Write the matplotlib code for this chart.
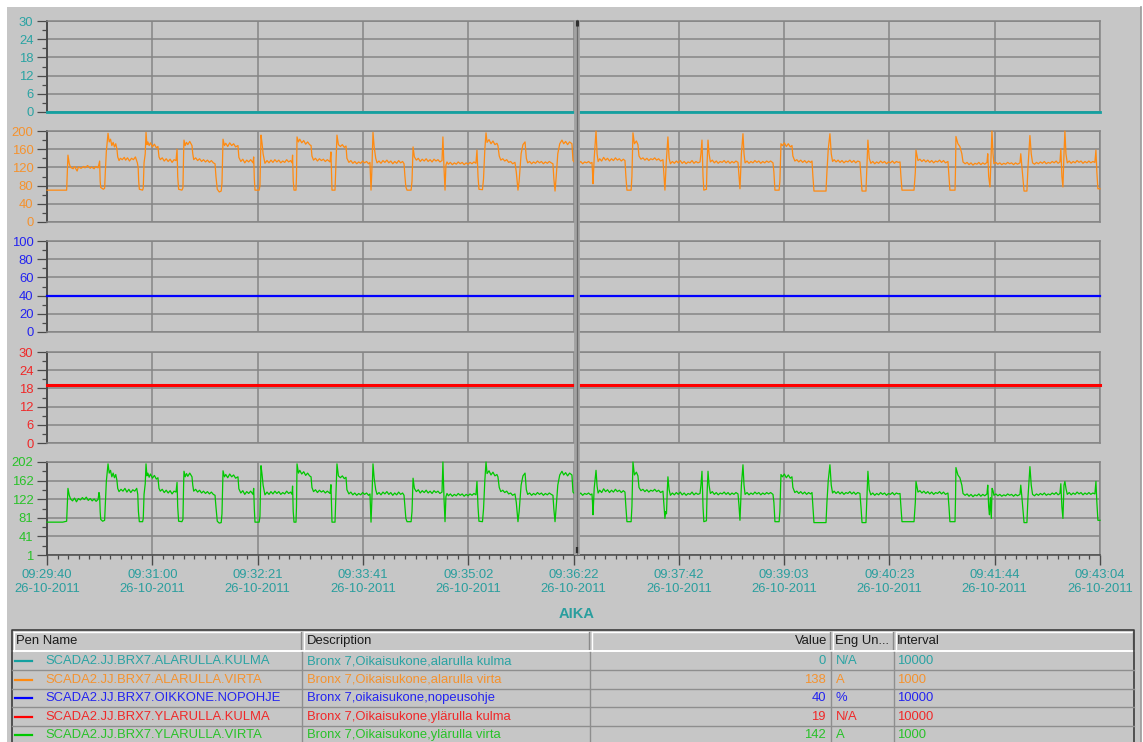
import matplotlib.pyplot as plt
import numpy as np
from matplotlib.ticker import FixedLocator
from matplotlib.transforms import blended_transform_factory

plt.rcParams['font.family'] = ['Liberation Sans', 'DejaVu Sans']
plt.rcParams['font.size'] = 9.4

# ---- trend data (seconds from 09:29:40, 26-10-2011) ----
t_end = 804.0

# lower roll angle (N/A), interval 10 s - constant
alakulma_t = [0, t_end]
alakulma = [0, 0]

# speed reference (%), constant
nopohje_t = [0, t_end]
nopohje = [40, 40]

# upper roll angle (N/A), constant
ylakulma_t = [0, t_end]
ylakulma = [19, 19]

# lower roll current (A)
alavirta = [
    (0, 70), (15, 70), (15.5, 110), (16, 147), (17, 128), (18, 120), (20, 117), (21, 122), (23, 112),
    (24, 121), (26, 118), (28, 122), (29, 119), (31, 124), (33, 118), (34, 121), (36, 117), (37, 122),
    (39, 119), (39.7, 128), (40.2, 134), (40.6, 90), (41, 76), (43, 72), (44, 74), (44.5, 108), (45.3, 155),
    (46.6, 195), (47.5, 176), (48.5, 182), (49.5, 168), (50.5, 175), (51.5, 165), (52.5, 172), (53.4, 160),
    (54, 143), (55, 135), (56, 140), (57.5, 137), (59, 142), (60, 136), (61.5, 141), (63, 134), (64.5, 140),
    (66, 137), (67.5, 143), (69, 130), (69.6, 120), (70, 90), (70.5, 72), (73, 70), (73.5, 75), (74.1, 130),
    (75, 150), (75.6, 197), (76.3, 170), (77, 176), (78, 168), (79, 174), (80.5, 165), (82, 171), (83.5, 163),
    (84.7, 166), (85.5, 143), (86.5, 137), (88, 141), (89.5, 134), (91, 139), (92.5, 133), (94, 138),
    (95.5, 131), (97, 137), (98.5, 135), (99.3, 160), (99.8, 100), (100.5, 72), (103, 70), (103.8, 75),
    (104.3, 150), (104.6, 180), (105.5, 168), (106.5, 175), (107.5, 170), (109, 177), (110.7, 168),
    (111.3, 150), (112, 137), (113.5, 141), (115, 135), (116.5, 139), (118, 133), (119.5, 137), (121, 132),
    (122.5, 136), (124, 131), (125.5, 135), (127, 130), (128.3, 128), (129, 100), (130, 72), (131.5, 66),
    (133, 68), (133.6, 85), (134.4, 182), (135.5, 168), (136.5, 173), (138, 166), (139.5, 174), (141, 168),
    (142.5, 172), (144, 165), (145.8, 168), (146.5, 142), (148, 133), (149.5, 138), (151, 130), (152.5, 136),
    (154, 132), (155.5, 137), (157.3, 130), (157.8, 143), (158.3, 95), (158.8, 70), (162, 70), (162.6, 80),
    (163.4, 191), (164.2, 173), (165, 150), (166.4, 129), (168, 135), (169.5, 130), (171, 136), (172.5, 131),
    (174, 137), (175.5, 132), (177, 136), (178.5, 130), (180, 134), (181.5, 131), (183, 137), (184.5, 132),
    (186, 135), (187.1, 130), (187.5, 147), (188, 90), (188.6, 70), (190.1, 70), (190.5, 100), (190.9, 187),
    (192, 176), (193, 182), (194.5, 174), (196, 179), (197.5, 171), (199, 176), (200.5, 170), (201.6, 168),
    (202.3, 145), (203.5, 136), (205, 140), (206.5, 134), (208, 139), (209.5, 135), (211, 138), (212.5, 133),
    (214, 137), (216.1, 132), (216.8, 154), (217.3, 100), (217.6, 70), (219.9, 70), (220.5, 120), (221.4, 191),
    (222.5, 170), (224, 166), (225.5, 170), (227, 164), (228.3, 167), (229, 140), (230.5, 131), (232, 135),
    (233.5, 129), (235, 133), (236.5, 128), (238, 132), (239.5, 129), (241, 134), (242.5, 130), (244, 133),
    (245.5, 128), (246.6, 131), (247, 100), (247.4, 70), (248, 110), (248.9, 197), (249.8, 165), (251, 140),
    (252, 130), (253.5, 134), (255, 129), (256.5, 135), (258, 131), (259.5, 136), (261, 130), (262.5, 134),
    (264, 128), (265.5, 133), (267, 129), (268.5, 135), (270, 130), (271.5, 133), (272.6, 128), (273.3, 100),
    (274, 77), (274.9, 70), (278, 70), (278.7, 90), (279.5, 165), (280.5, 143), (282, 136), (283.5, 140),
    (285, 133), (286.5, 138), (288, 134), (289.5, 139), (291, 133), (292.5, 137), (294, 132), (295.5, 138),
    (297, 134), (298.5, 137), (300, 132), (301.6, 135), (302.3, 187), (303.1, 120), (303.9, 70), (304.6, 125),
    (305.4, 132), (306.5, 127), (308, 131), (309.5, 126), (311, 130), (312.5, 127), (314, 132), (315.5, 128),
    (317, 131), (318.5, 126), (320, 130), (321.5, 127), (323, 131), (324.5, 128), (326, 132), (327.5, 129),
    (328.3, 158), (329.1, 100), (329.8, 72), (332.5, 71), (333.3, 95), (334.3, 160), (335.2, 196), (336, 175),
    (337.5, 181), (339, 172), (340.5, 178), (342, 170), (343.5, 173), (344.3, 168), (345.3, 145), (346.5, 136),
    (348, 139), (349.5, 134), (351, 137), (352.5, 131), (354, 133), (355.5, 128), (357.3, 131), (358.3, 110),
    (359.6, 70), (360.5, 90), (362, 150), (363.4, 170), (365, 176), (366, 140), (367, 130), (368.5, 133),
    (370, 128), (371.5, 132), (373, 129), (374.5, 134), (376, 130), (377.5, 133), (379, 128), (380.5, 132),
    (382, 129), (383.5, 133), (385, 130), (386.3, 128), (387, 95), (387.9, 68), (388.8, 100), (390, 150),
    (391.5, 172), (393.2, 180), (394.5, 172), (396, 177), (397.5, 170), (399, 176), (400.8, 172), (401.6, 135),
    (403, 131), (404.5, 138), (406, 129), (407.5, 133), (409, 128), (410.5, 132), (412, 130), (413.5, 133),
    (415, 129), (416.1, 131), (416.5, 110), (416.9, 84), (417.8, 140), (419.2, 200), (420, 150), (420.8, 133),
    (422, 139), (423.5, 134), (425, 142), (426.5, 136), (428, 140), (429.5, 134), (431, 139), (432.5, 135),
    (434, 141), (435.5, 136), (437, 139), (438.5, 134), (440, 138), (441.3, 135), (442, 100), (442.8, 70),
    (446, 70), (446.6, 100), (447.4, 196), (448.5, 172), (450, 178), (451.2, 170), (452, 145), (453.5, 138),
    (455, 141), (456.5, 136), (458, 140), (459.5, 135), (461, 139), (462.5, 137), (464, 141), (465.5, 136),
    (467, 139), (468.5, 134), (470.3, 137), (471, 105), (471.8, 70), (472.8, 130), (474.1, 187), (475, 140),
    (476, 128), (477.5, 133), (479, 129), (480.5, 134), (482, 130), (483.5, 135), (485, 129), (486.5, 133),
    (488, 128), (489.5, 132), (491, 130), (492.5, 135), (494, 129), (495.5, 133), (497, 130), (498.6, 132),
    (499.3, 150), (500.1, 180), (500.9, 100), (501.5, 70), (503.5, 72), (504, 130), (504.7, 180), (505.5, 150),
    (506.5, 132), (508, 136), (509.5, 130), (511, 134), (512.5, 129), (514, 133), (515.5, 131), (517, 135),
    (518.5, 130), (520, 134), (521.5, 129), (523, 133), (524.5, 130), (526, 134), (527.6, 131), (528.3, 105),
    (529.1, 73), (530.2, 150), (531.4, 194), (532.2, 150), (533, 130), (534.5, 134), (536, 129), (537.5, 133),
    (539, 130), (540.5, 135), (542, 131), (543.5, 134), (545, 129), (546.5, 133), (548, 130), (549.5, 134),
    (551, 131), (552.5, 134), (554.3, 130), (555, 110), (555.8, 70), (559, 70), (559.6, 90), (560.4, 172),
    (561.5, 168), (563, 174), (564.5, 166), (566, 172), (567.5, 165), (568.8, 168), (569.5, 145), (571, 134),
    (572.5, 137), (574, 132), (575.5, 136), (577, 131), (578.5, 135), (580, 130), (581.5, 134), (583, 131),
    (584.1, 134), (584.8, 100), (585.6, 68), (594.8, 68), (595.5, 110), (596.5, 160), (597.8, 194),
    (598.8, 150), (599.8, 133), (601, 137), (602.5, 132), (604, 136), (605.5, 131), (607, 135), (608.5, 130),
    (610, 134), (611.5, 132), (613, 136), (614.5, 131), (616, 135), (617.5, 130), (619, 134), (620.7, 132),
    (621.5, 100), (622.3, 68), (625.3, 68), (626, 120), (626.8, 180), (627.8, 140), (629, 129), (630.5, 133),
    (632, 128), (633.5, 132), (635, 129), (636.5, 134), (638, 130), (639.5, 133), (641, 128), (642.5, 132),
    (644, 130), (645.5, 134), (647, 129), (648.5, 133), (650, 131), (651.3, 132), (652, 100), (652.8, 70),
    (662, 70), (663, 110), (663.5, 158), (665, 135), (666.5, 138), (668, 133), (669.5, 137), (671, 132),
    (672.5, 136), (674, 131), (675.5, 135), (677, 130), (678.5, 134), (680, 132), (681.5, 136), (683, 131),
    (684.5, 135), (686, 130), (687.9, 133), (688.7, 100), (689.4, 70), (693.3, 70), (693.7, 120), (694, 188),
    (695.5, 172), (697, 166), (698.5, 150), (699.4, 132), (701, 128), (702.5, 131), (704, 126), (705.5, 130),
    (707, 125), (708.5, 129), (710, 127), (711.5, 131), (713, 126), (714.5, 130), (716, 127), (717.7, 131),
    (718.3, 150), (719, 100), (720, 77), (720.8, 140), (721.5, 200), (722.3, 150), (723, 128), (724.5, 131),
    (726, 127), (727.5, 130), (729, 126), (730.5, 129), (732, 127), (733.5, 131), (735, 128), (736.5, 130),
    (738, 126), (739.5, 130), (741, 127), (742.9, 130), (743.5, 150), (744.4, 120), (746, 68), (748.2, 68),
    (749, 120), (750.5, 190), (751.5, 150), (752.5, 130), (754, 127), (755.5, 131), (757, 128), (758.5, 132),
    (760, 129), (761.5, 133), (763, 128), (764.5, 131), (766, 129), (767.5, 133), (769, 130), (770.5, 134),
    (772, 129), (773.4, 132), (774.1, 161), (774.9, 100), (775.7, 77), (776.5, 150), (777.2, 200), (778, 150),
    (779, 130), (780.5, 134), (782, 129), (783.5, 133), (785, 130), (786.5, 135), (788, 131), (789.5, 134),
    (791, 129), (792.5, 133), (794, 130), (795.5, 134), (797, 130), (798.5, 133), (800.1, 131), (800.9, 158),
    (801.6, 110), (802.4, 73), (804, 73),
]

# upper roll current (A)
ylavirta = [
    (0, 72), (12, 72), (15, 74), (15.5, 110), (16, 145), (17, 130), (18, 122), (19.5, 118), (21, 124),
    (22.5, 116), (24, 123), (25.5, 120), (27, 125), (28.5, 121), (30, 126), (31.5, 119), (33, 123),
    (34.5, 118), (36, 122), (37.5, 117), (39, 121), (39.7, 136), (40.2, 128), (40.6, 95), (41, 78),
    (42.5, 74), (44, 76), (44.5, 110), (45.3, 160), (46.6, 198), (47.5, 178), (48.5, 184), (49.5, 170),
    (50.5, 178), (51.5, 168), (52.5, 175), (53.4, 162), (54, 145), (55, 138), (56.5, 143), (58, 139),
    (59.5, 145), (61, 137), (62.5, 143), (64, 136), (65.5, 142), (67, 139), (68.5, 145), (69.3, 132),
    (69.8, 95), (70.5, 73), (73, 73), (73.5, 80), (74.1, 132), (75, 155), (75.6, 198), (76.3, 172), (77, 178),
    (78, 169), (79, 176), (80.5, 167), (82, 173), (83.5, 165), (84.7, 168), (85.5, 145), (86.5, 139),
    (88, 143), (89.5, 136), (91, 141), (92.5, 135), (94, 140), (95.5, 133), (97, 139), (98.5, 137),
    (99.3, 158), (99.8, 105), (100.5, 74), (103, 73), (103.8, 78), (104.3, 152), (104.6, 182), (105.5, 170),
    (106.5, 177), (107.5, 171), (109, 178), (110.7, 170), (111.3, 152), (112, 139), (113.5, 143), (115, 137),
    (116.5, 141), (118, 135), (119.5, 139), (121, 134), (122.5, 138), (124, 133), (125.5, 137), (127, 132),
    (128.3, 130), (129, 105), (130, 74), (131.5, 70), (133, 71), (133.6, 90), (134.4, 183), (135.5, 170),
    (136.5, 175), (138, 168), (139.5, 176), (141, 170), (142.5, 174), (144, 167), (145.8, 170), (146.5, 144),
    (148, 135), (149.5, 140), (151, 132), (152.5, 138), (154, 134), (155.5, 139), (157.3, 132), (157.8, 145),
    (158.3, 100), (158.8, 72), (162, 72), (162.6, 85), (163.4, 194), (164.2, 175), (165, 152), (166.4, 131),
    (168, 137), (169.5, 132), (171, 138), (172.5, 133), (174, 139), (175.5, 134), (177, 138), (178.5, 132),
    (180, 136), (181.5, 133), (183, 139), (184.5, 134), (186, 137), (187.1, 132), (187.5, 150), (188, 95),
    (188.6, 72), (190.1, 72), (190.5, 105), (190.9, 198), (192, 178), (193, 184), (194.5, 176), (196, 181),
    (197.5, 173), (199, 178), (200.5, 172), (201.6, 170), (202.3, 147), (203.5, 138), (205, 142), (206.5, 136),
    (208, 141), (209.5, 137), (211, 140), (212.5, 135), (214, 139), (216.1, 134), (216.8, 153), (217.3, 105),
    (217.6, 72), (219.9, 72), (220.5, 125), (221.4, 198), (222.5, 172), (224, 168), (225.5, 172), (227, 166),
    (228.3, 169), (229, 142), (230.5, 133), (232, 137), (233.5, 131), (235, 135), (236.5, 130), (238, 134),
    (239.5, 131), (241, 136), (242.5, 132), (244, 135), (245.5, 130), (246.6, 133), (247, 105), (247.4, 72),
    (248, 115), (248.9, 198), (249.8, 167), (251, 142), (252, 132), (253.5, 136), (255, 131), (256.5, 137),
    (258, 133), (259.5, 138), (261, 132), (262.5, 136), (264, 130), (265.5, 135), (267, 131), (268.5, 137),
    (270, 132), (271.5, 135), (272.6, 130), (273.3, 105), (274, 80), (274.9, 73), (278, 73), (278.7, 95),
    (279.5, 167), (280.5, 145), (282, 138), (283.5, 142), (285, 135), (286.5, 140), (288, 136), (289.5, 141),
    (291, 135), (292.5, 139), (294, 134), (295.5, 140), (297, 136), (298.5, 139), (300, 134), (301.6, 137),
    (302.3, 202), (303.1, 125), (303.9, 73), (304.6, 127), (305.4, 134), (306.5, 129), (308, 133),
    (309.5, 128), (311, 132), (312.5, 129), (314, 134), (315.5, 130), (317, 133), (318.5, 128), (320, 132),
    (321.5, 129), (323, 133), (324.5, 130), (326, 134), (327.5, 131), (328.3, 160), (329.1, 105), (329.8, 74),
    (332.5, 73), (333.3, 100), (334.3, 162), (335.2, 202), (336, 177), (337.5, 183), (339, 174), (340.5, 180),
    (342, 172), (343.5, 175), (344.3, 170), (345.3, 147), (346.5, 138), (348, 141), (349.5, 136), (351, 139),
    (352.5, 133), (354, 135), (355.5, 130), (357.3, 133), (358.3, 115), (359.6, 73), (360.5, 95), (362, 152),
    (363.4, 172), (365, 178), (366, 142), (367, 132), (368.5, 135), (370, 130), (371.5, 134), (373, 131),
    (374.5, 136), (376, 132), (377.5, 135), (379, 130), (380.5, 134), (382, 131), (383.5, 135), (385, 132),
    (386.3, 130), (387, 100), (387.9, 73), (388.8, 105), (390, 152), (391.5, 174), (393.2, 182), (394.5, 174),
    (396, 179), (397.5, 172), (399, 178), (400.8, 174), (401.6, 137), (403, 133), (404.5, 142), (406, 131),
    (407.5, 135), (409, 130), (410.5, 134), (412, 132), (413.5, 135), (415, 131), (416.1, 133), (416.5, 115),
    (416.9, 88), (417.8, 145), (419.2, 184), (420, 150), (420.8, 135), (422, 141), (423.5, 136), (425, 144),
    (426.5, 138), (428, 142), (429.5, 136), (431, 141), (432.5, 137), (434, 143), (435.5, 138), (437, 141),
    (438.5, 136), (440, 140), (441.3, 137), (442, 105), (442.8, 73), (446, 73), (446.6, 105), (447.4, 202),
    (448.5, 174), (450, 180), (451.2, 172), (452, 147), (453.5, 140), (455, 143), (456.5, 138), (458, 142),
    (459.5, 137), (461, 141), (462.5, 139), (464, 143), (465.5, 138), (467, 141), (468.5, 136), (470.3, 139),
    (471, 110), (471.8, 80), (472.4, 95), (473, 90), (473.6, 140), (474.1, 170), (475, 142), (476, 130),
    (477.5, 135), (479, 131), (480.5, 136), (482, 132), (483.5, 137), (485, 131), (486.5, 135), (488, 130),
    (489.5, 134), (491, 132), (492.5, 137), (494, 131), (495.5, 135), (497, 132), (498.6, 134), (499.3, 152),
    (500.1, 182), (500.9, 105), (501.5, 73), (503.5, 75), (504, 135), (504.7, 182), (505.5, 152), (506.5, 134),
    (508, 138), (509.5, 132), (511, 136), (512.5, 131), (514, 135), (515.5, 133), (517, 137), (518.5, 132),
    (520, 136), (521.5, 131), (523, 135), (524.5, 132), (526, 136), (527.6, 133), (528.3, 110), (529.1, 76),
    (530.2, 152), (531.4, 196), (532.2, 152), (533, 132), (534.5, 136), (536, 131), (537.5, 135), (539, 132),
    (540.5, 137), (542, 133), (543.5, 136), (545, 131), (546.5, 135), (548, 132), (549.5, 136), (551, 133),
    (552.5, 136), (554.3, 132), (555, 115), (555.8, 73), (559, 73), (559.6, 95), (560.4, 175), (561.5, 170),
    (563, 176), (564.5, 168), (566, 174), (567.5, 167), (568.8, 170), (569.5, 147), (571, 136), (572.5, 139),
    (574, 134), (575.5, 138), (577, 133), (578.5, 137), (580, 132), (581.5, 136), (583, 133), (584.1, 136),
    (584.8, 105), (585.6, 71), (594.8, 71), (595.5, 115), (596.5, 162), (597.8, 196), (598.8, 152),
    (599.8, 135), (601, 139), (602.5, 134), (604, 138), (605.5, 133), (607, 137), (608.5, 132), (610, 136),
    (611.5, 134), (613, 138), (614.5, 133), (616, 137), (617.5, 132), (619, 136), (620.7, 134), (621.5, 105),
    (622.3, 71), (625.3, 71), (626, 125), (626.8, 182), (627.8, 142), (629, 131), (630.5, 135), (632, 130),
    (633.5, 134), (635, 131), (636.5, 136), (638, 132), (639.5, 135), (641, 130), (642.5, 134), (644, 132),
    (645.5, 136), (647, 131), (648.5, 135), (650, 133), (651.3, 134), (652, 105), (652.8, 73), (662, 73),
    (663, 115), (663.5, 160), (665, 137), (666.5, 140), (668, 135), (669.5, 139), (671, 134), (672.5, 138),
    (674, 133), (675.5, 137), (677, 132), (678.5, 136), (680, 134), (681.5, 138), (683, 133), (684.5, 137),
    (686, 132), (687.9, 135), (688.7, 105), (689.4, 73), (693.3, 73), (693.7, 125), (694, 190), (695.5, 174),
    (697, 168), (698.5, 152), (699.4, 134), (701, 130), (702.5, 133), (704, 128), (705.5, 132), (707, 127),
    (708.5, 131), (710, 129), (711.5, 133), (713, 128), (714.5, 132), (716, 129), (717.7, 133), (718.3, 152),
    (719, 105), (719.6, 88), (720.3, 125), (721, 80), (721.6, 145), (722.3, 140), (723, 130), (724.5, 133),
    (726, 129), (727.5, 132), (729, 128), (730.5, 131), (732, 129), (733.5, 133), (735, 130), (736.5, 132),
    (738, 128), (739.5, 132), (741, 129), (742.9, 132), (743.5, 152), (744.4, 125), (746, 71), (748.2, 71),
    (749, 125), (750.5, 192), (751.5, 152), (752.5, 132), (754, 129), (755.5, 133), (757, 130), (758.5, 134),
    (760, 131), (761.5, 135), (763, 130), (764.5, 133), (766, 131), (767.5, 135), (769, 132), (770.5, 136),
    (772, 131), (773.4, 134), (774.1, 155), (774.9, 105), (775.7, 80), (776.5, 152), (777.2, 160), (778, 145),
    (779, 132), (780.5, 136), (782, 131), (783.5, 135), (785, 132), (786.5, 137), (788, 133), (789.5, 136),
    (791, 131), (792.5, 135), (794, 132), (795.5, 136), (797, 132), (798.5, 135), (800.1, 133), (800.9, 160),
    (801.6, 115), (802.4, 76), (804, 76),
]

cursor_t = 404.5

time_labels = ['09:29:40', '09:31:00', '09:32:21', '09:33:41', '09:35:02', '09:36:22',
               '09:37:42', '09:39:03', '09:40:23', '09:41:44', '09:43:04']
date_label = '26-10-2011'

# pen table
pen_names = ['SCADA2.JJ.BRX7.ALARULLA.KULMA', 'SCADA2.JJ.BRX7.ALARULLA.VIRTA',
             'SCADA2.JJ.BRX7.OIKKONE.NOPOHJE', 'SCADA2.JJ.BRX7.YLARULLA.KULMA',
             'SCADA2.JJ.BRX7.YLARULLA.VIRTA']
pen_desc = ['Bronx 7,Oikaisukone,alarulla kulma', 'Bronx 7,Oikaisukone,alarulla virta',
            'Bronx 7,oikaisukone,nopeusohje', 'Bronx 7,Oikaisukone,ylärulla kulma',
            'Bronx 7,Oikaisukone,ylärulla virta']
pen_values = [0, 138, 40, 19, 142]
pen_units = ['N/A', 'A', '%', 'N/A', 'A']
pen_interval = [10000, 1000, 10000, 10000, 1000]

line_colors = ['#14a0a0', '#ff8a10', '#0000ff', '#ff0000', '#00c800']
text_colors = ['#2aa3a3', '#f5922e', '#2323f0', '#f02828', '#28c228']

# axis ranges and labels per pen
y_ranges = [(0, 30), (0, 200), (0, 100), (0, 30), (1, 202)]
y_labels = [['0', '6', '12', '18', '24', '30'],
            ['0', '40', '80', '120', '160', '200'],
            ['0', '20', '40', '60', '80', '100'],
            ['0', '6', '12', '18', '24', '30'],
            ['1', '41', '81', '122', '162', '202']]

# ---- layout (pixels) ----
W, H = 1143, 742
BG = '#c6c6c6'
GRID = '#858585'
DARK = '#4a4a4a'
X0, X1 = 47, 1100
panel_px = [(21, 112), (131, 222), (241, 332), (352, 443), (462, 555)]

fig = plt.figure(figsize=(W / 100, H / 100), dpi=100)
fig.patch.set_facecolor('white')

bg = fig.add_axes([0, 0, 1, 1], zorder=-5)
bg.set_xlim(0, W)
bg.set_ylim(H, 0)
bg.axis('off')
bg.add_patch(plt.Rectangle((7, 7), 1134, 740, facecolor=BG, edgecolor='none'))
bg.plot([1141, 1141], [7, H], color='#9a9a9a', lw=1.2)

series = [(alakulma_t, alakulma), None, (nopohje_t, nopohje), (ylakulma_t, ylakulma), None]
series[1] = tuple(zip(*alavirta))
series[4] = tuple(zip(*ylavirta))
widths = [2.0, 0.9, 1.6, 2.2, 0.9]

major_x = np.linspace(0, t_end, 11)
minor_x = np.linspace(0, t_end, 101)

axes = []
for i, (top, bot) in enumerate(panel_px):
    ax = fig.add_axes([X0 / W, 1 - bot / H, (X1 - X0) / W, (bot - top) / H], zorder=1)
    ax.set_facecolor(BG)
    lo, hi = y_ranges[i]
    yt = np.linspace(lo, hi, 6)
    ax.set_ylim(lo, hi)
    ax.set_xlim(0, t_end)
    ax.yaxis.set_major_locator(FixedLocator(yt))
    ax.yaxis.set_minor_locator(FixedLocator((yt[:-1] + yt[1:]) / 2))
    ax.set_yticklabels(y_labels[i])
    ax.xaxis.set_major_locator(FixedLocator(major_x))
    ax.xaxis.set_minor_locator(FixedLocator(minor_x))
    ax.grid(True, which='major', color=GRID, lw=1.1)
    ax.set_axisbelow(True)
    for side in ['top', 'right', 'bottom']:
        ax.spines[side].set_color(GRID)
        ax.spines[side].set_linewidth(1.1)
    ax.spines['left'].set_color(DARK)
    ax.spines['left'].set_linewidth(1.4)
    ax.tick_params(axis='y', which='major', direction='out', length=7.2, width=0.9,
                   color=DARK, labelcolor=text_colors[i], labelsize=9.4, pad=2.6)
    ax.tick_params(axis='y', which='minor', direction='out', length=3.6, width=0.9, color=DARK)
    if i < 4:
        ax.tick_params(axis='x', which='both', bottom=False, labelbottom=False)
    else:
        ax.spines['bottom'].set_color(DARK)
        ax.set_xticklabels([f'{t}\n{date_label}' for t in time_labels])
        ax.tick_params(axis='x', which='major', direction='out', length=7.2, width=1.0,
                       color=DARK, labelcolor='#2a9e9e', labelsize=9.4, pad=3)
        ax.tick_params(axis='x', which='minor', direction='out', length=3.2, width=0.9, color=DARK)
    xs, ys = series[i]
    ax.plot(xs, ys, color=line_colors[i], lw=widths[i], clip_on=False, zorder=3)
    axes.append(ax)

fig.text(577 / W, 1 - 614 / H, 'AIKA', color='#2a9e9e', fontsize=10.5, fontweight='bold',
         ha='center', va='center')

# overlay for cursor and pen table
ov = fig.add_axes([0, 0, 1, 1], zorder=10)
ov.set_xlim(0, W)
ov.set_ylim(H, 0)
ov.axis('off')
ov.patch.set_visible(False)

ctr = blended_transform_factory(axes[4].transData, ov.transData)
ov.plot([cursor_t, cursor_t], [20, 555], color='#a2a2a2', lw=4.2, transform=ctr, solid_capstyle='butt')
ov.plot([cursor_t, cursor_t], [20, 555], color='#6a6a6a', lw=0.9, transform=ctr)
ov.plot([cursor_t, cursor_t], [20, 26], color='#303030', lw=2.2, transform=ctr, solid_capstyle='butt')
ov.plot([cursor_t, cursor_t], [547, 553], color='#303030', lw=1.6, transform=ctr, solid_capstyle='butt')

# pen table
col_x = [12, 302, 590, 831, 894, 1134]
row_y = [630, 651, 670, 688.5, 707, 725.5, 744]

ov.add_patch(plt.Rectangle((col_x[0], row_y[0]), col_x[-1] - col_x[0], H - row_y[0],
                           facecolor=BG, edgecolor='none'))
# header
for c in range(5):
    xa, xb = col_x[c], col_x[c + 1]
    ov.plot([xa + 1.5, xb - 1], [row_y[0] + 2, row_y[0] + 2], color='white', lw=1.0)
    ov.plot([xa + 1.5, xa + 1.5], [row_y[0] + 2, row_y[1]], color='white', lw=1.0)
    ov.plot([xb - 1, xb - 1], [row_y[0] + 2, row_y[1]], color='#8a8a8a', lw=1.0)
ov.plot([col_x[0], col_x[-1]], [row_y[1], row_y[1]], color='white', lw=1.4)
ov.plot([col_x[0], col_x[0], col_x[-1], col_x[-1]], [H, row_y[0], row_y[0], H], color='#3c3c3c', lw=1.2)

hy = (row_y[0] + row_y[1]) / 2 + 0.5
ov.text(16, hy, 'Pen Name', color='#1a1a1a', va='center', ha='left', fontsize=9.4)
ov.text(307, hy, 'Description', color='#1a1a1a', va='center', ha='left', fontsize=9.4)
ov.text(827, hy, 'Value', color='#1a1a1a', va='center', ha='right', fontsize=9.4)
ov.text(835, hy, 'Eng Un...', color='#1a1a1a', va='center', ha='left', fontsize=9.4)
ov.text(897, hy, 'Interval', color='#1a1a1a', va='center', ha='left', fontsize=9.4)

# body grid
for y in row_y[2:-1]:
    ov.plot([col_x[0], col_x[-1]], [y, y], color='#8e8e8e', lw=1.0)
for x in col_x[1:-1]:
    ov.plot([x, x], [row_y[1] + 1, H], color='#8e8e8e', lw=1.0)

for r in range(5):
    yc = (row_y[r + 1] + row_y[r + 2]) / 2 + 0.5
    c = text_colors[r]
    ov.plot([15, 32], [yc, yc], color=line_colors[r], lw=1.6)
    ov.text(45, yc, pen_names[r], color=c, va='center', ha='left', fontsize=9.4)
    ov.text(307, yc, pen_desc[r], color=c, va='center', ha='left', fontsize=9.4)
    ov.text(826, yc, str(pen_values[r]), color=c, va='center', ha='right', fontsize=9.4)
    ov.text(836, yc, pen_units[r], color=c, va='center', ha='left', fontsize=9.4)
    ov.text(897, yc, str(pen_interval[r]), color=c, va='center', ha='left', fontsize=9.4)

fig.savefig('out.png', dpi=100, facecolor=fig.get_facecolor())
